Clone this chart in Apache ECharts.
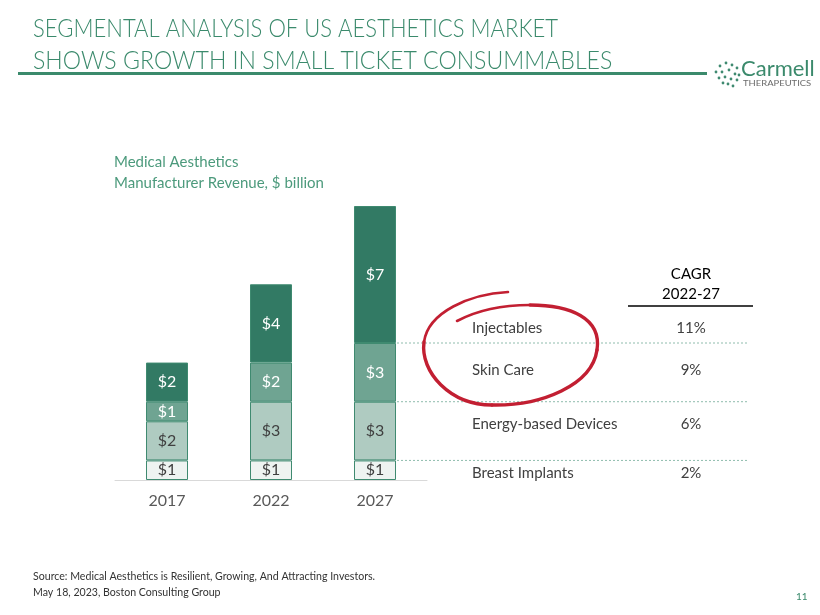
<!DOCTYPE html>
<html>
<head>
<meta charset="utf-8">
<script src="https://cdn.jsdelivr.net/npm/echarts@6/dist/echarts.min.js"></script>
<style>
  html, body { margin: 0; padding: 0; background: #fff; }
  #main { width: 820px; height: 615px; }
</style>
</head>
<body>
<div id="main"></div>
<script>
// data
const years = ['2017', '2022', '2027']
const segments = ['Breast Implants', 'Energy-based Devices', 'Skin Care', 'Injectables']
const breastImplants = [1, 1, 1]
const energyDevices = [2, 3, 3]
const skinCare = [1, 2, 3]
const injectables = [2, 4, 7]
const cagr = { 'Injectables': '11%', 'Skin Care': '9%', 'Energy-based Devices': '6%', 'Breast Implants': '2%' }

const FONT = 'Lato, "Open Sans", sans-serif'
const colors = ['#eef3f1', '#afcbc1', '#6fa492', '#327a64']
const labelColors = ['#404040', '#404040', '#ffffff', '#ffffff']
const values = [breastImplants, energyDevices, skinCare, injectables]

const chart = echarts.init(document.getElementById('main'))

const series = segments.map((name, i) => ({
  name: name,
  type: 'bar',
  stack: 'total',
  barWidth: 42,
  data: values[i],
  itemStyle: { color: colors[i], borderColor: '#3f8a70', borderWidth: 1 },
  label: {
    show: true,
    position: 'inside',
    formatter: p => '$' + p.value,
    color: labelColors[i],
    fontFamily: FONT,
    fontSize: 16
  },
  emphasis: { disabled: true }
}))

function txt(x, y, text, size, fill, extra, el) {
  return Object.assign({
    type: 'text', x: x, y: y,
    style: Object.assign({ text: text, fontFamily: FONT, fontSize: size, fill: fill, verticalAlign: 'middle' }, extra || {})
  }, el || {})
}

// right-hand table rows
const rows = [
  { name: 'Injectables', y: 328 },
  { name: 'Skin Care', y: 370 },
  { name: 'Energy-based Devices', y: 424 },
  { name: 'Breast Implants', y: 473 }
]

const tableText = []
rows.forEach(r => {
  tableText.push(txt(472, r.y, r.name, 15, '#404040'))
  tableText.push(txt(691, r.y, cagr[r.name], 15, '#404040', { align: 'center' }))
})

// logo dots (decorative)
const logoDots = []
const dotPos = [[720,66],[726,63],[732,65],[737,68],[722,72],[729,70],[735,74],[719,78],[725,77],[731,79],[737,80],[728,84],[733,86],[723,83],[739,75],[716,72]]
dotPos.forEach(d => logoDots.push({ type: 'circle', shape: { cx: d[0], cy: d[1], r: 1.4 }, style: { fill: '#3f8a70' } }))

// hand drawn red circle, as cubic pieces
const ring = [
  [508, 292, 470, 294, 428, 312, 424, 342],
  [424, 342, 420, 372, 450, 405, 492, 405],
  [492, 405, 542, 406, 592, 385, 597, 350],
  [597, 350, 602, 318, 570, 305, 530, 305],
  [530, 305, 500, 305, 474, 312, 457, 321]
]
const ringEls = ring.map((c, i) => ({
  type: 'bezierCurve', z: 10,
  shape: { x1: c[0], y1: c[1], cpx1: c[2], cpy1: c[3], cpx2: c[4], cpy2: c[5], x2: c[6], y2: c[7] },
  style: { fill: null, stroke: '#c21f32', lineWidth: (i === 0 || i === 4) ? 2.6 : 3.4, lineCap: 'round' }
}))

const baseGraphic = [
  txt(33, 29, 'SEGMENTAL ANALYSIS OF US AESTHETICS MARKET', 26, '#3b8a6c', { fontWeight: 300 }, { scaleX: 0.848 }),
  txt(33, 61, 'SHOWS GROWTH IN SMALL TICKET CONSUMMABLES', 26, '#3b8a6c', { fontWeight: 300 }, { scaleX: 0.888 }),
  { type: 'line', shape: { x1: 18, y1: 73.5, x2: 707, y2: 73.5 }, style: { stroke: '#3b8a6c', lineWidth: 3 } },
  txt(741, 69, 'Carmell', 22, '#3b8a6c'),
  txt(743, 83, 'THERAPEUTICS', 8, '#6b6b6b', null, { scaleX: 1.18 }),
  ...logoDots,
  txt(114, 162, 'Medical Aesthetics', 15, '#4c9a7c'),
  txt(114, 183, 'Manufacturer Revenue, $ billion', 15, '#4c9a7c'),
  txt(691, 274, 'CAGR', 15, '#000', { align: 'center' }),
  txt(691, 294, '2022-27', 15, '#000', { align: 'center' }),
  { type: 'line', shape: { x1: 628, y1: 306, x2: 753, y2: 306 }, style: { stroke: '#000', lineWidth: 1.5 } },
  ...tableText,
  ...ringEls,
  txt(33, 577, 'Source: Medical Aesthetics is Resilient, Growing, And Attracting Investors.', 10.6, '#333'),
  txt(33, 593, 'May 18, 2023, Boston Consulting Group', 10.6, '#333'),
  txt(796, 597, '11', 10, '#3b8a6c')
]

const option = {
  animation: false,
  grid: { left: 115, width: 312, top: 206, bottom: 135 },
  xAxis: {
    type: 'category',
    data: years,
    axisLine: { lineStyle: { color: '#d9d9d9', width: 1 } },
    axisTick: { show: false },
    axisLabel: { color: '#595959', fontFamily: FONT, fontSize: 16, margin: 13 }
  },
  yAxis: { type: 'value', min: 0, max: 14, show: false },
  series: series,
  graphic: baseGraphic
}
chart.setOption(option)

// dotted dividers that follow the 2027 stack boundaries
const last = years.length - 1
let cum = 0
const dividers = []
for (let i = 0; i < values.length - 1; i++) {
  cum += values[i][last]
  const pt = chart.convertToPixel({ seriesIndex: 0 }, [last, cum])
  dividers.push({
    type: 'line',
    shape: { x1: pt[0] + 22, y1: pt[1], x2: 748, y2: pt[1] },
    style: { stroke: '#8fbcad', lineWidth: 1, lineDash: [2, 2] }
  })
}
chart.setOption({ graphic: baseGraphic.concat(dividers) }, { replaceMerge: ['graphic'] })
</script>
</body>
</html>
